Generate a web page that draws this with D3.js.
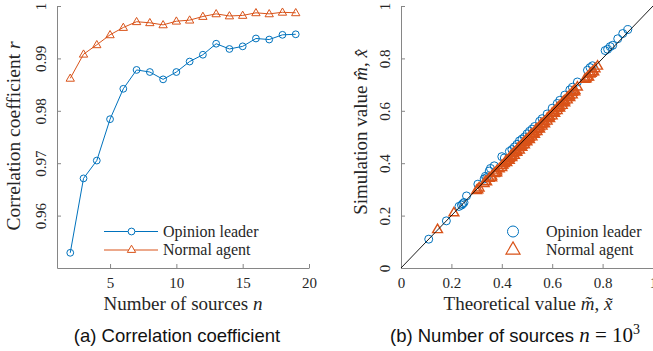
<!DOCTYPE html>
<html>
<head>
<meta charset="utf-8">
<script src="https://cdn.jsdelivr.net/npm/d3@7"></script>
<style>
    body { margin: 0; background: #fff; }
    svg text { font-family: "Liberation Serif", serif; fill: #262626; }
    svg text.caption { font-family: "Liberation Sans", Arial, sans-serif; fill: #111; }
</style>
</head>
<body>
<div id="chart"></div>
<script>
// left panel: correlation coefficient vs number of sources
const sources = [2, 3, 4, 5, 6, 7, 8, 9, 10, 11, 12, 13, 14, 15, 16, 17, 18, 19];
const leaderR = [0.9529, 0.9671, 0.9705, 0.9784, 0.9842, 0.9878, 0.9874, 0.9860, 0.9874, 0.9894,
                 0.9907, 0.9928, 0.9918, 0.9923, 0.9938, 0.9936, 0.9945, 0.9946];
const agentR = [0.9862, 0.9908, 0.9926, 0.9945, 0.9959, 0.9970, 0.9968, 0.9964, 0.9971, 0.9973,
                0.9980, 0.9985, 0.9981, 0.9982, 0.9987, 0.9985, 0.9988, 0.9987];
const leftXTicks = [5, 10, 15, 20];
const leftYTicks = [0.96, 0.97, 0.98, 0.99, 1];

// right panel: theoretical vs simulated values, n = 10^3
const leaderTheory = [0.11, 0.18, 0.23, 0.24, 0.245, 0.25, 0.26, 0.305, 0.33, 0.335, 0.34, 0.35, 0.355, 0.37,
                      0.40, 0.41, 0.43, 0.44, 0.45, 0.46, 0.47, 0.48, 0.49, 0.50, 0.51, 0.52, 0.53, 0.55,
                      0.56, 0.58, 0.60, 0.62, 0.63, 0.65, 0.67, 0.68, 0.70, 0.74, 0.75, 0.76, 0.81, 0.82,
                      0.83, 0.84, 0.86, 0.88, 0.90];
const leaderSim = [0.11, 0.18, 0.235, 0.24, 0.245, 0.25, 0.275, 0.32, 0.34, 0.35, 0.345, 0.37, 0.38, 0.39,
                   0.425, 0.42, 0.445, 0.452, 0.462, 0.472, 0.485, 0.492, 0.50, 0.512, 0.522, 0.53, 0.54, 0.56,
                   0.57, 0.588, 0.61, 0.628, 0.64, 0.66, 0.68, 0.69, 0.71, 0.755, 0.765, 0.772, 0.83, 0.835,
                   0.845, 0.85, 0.875, 0.895, 0.91];
const agentTheory = [0.145, 0.21, 0.30, 0.305, 0.31, 0.33, 0.335, 0.34, 0.35, 0.36, 0.37, 0.375, 0.38, 0.39,
                     0.40, 0.405, 0.41, 0.415, 0.42, 0.425, 0.43, 0.435, 0.44, 0.445, 0.45, 0.455, 0.46, 0.465,
                     0.47, 0.475, 0.48, 0.485, 0.49, 0.495, 0.50, 0.505, 0.51, 0.515, 0.52, 0.525, 0.53, 0.535,
                     0.54, 0.545, 0.55, 0.555, 0.56, 0.565, 0.57, 0.58, 0.585, 0.59, 0.60, 0.605, 0.61, 0.62,
                     0.625, 0.63, 0.64, 0.645, 0.65, 0.66, 0.665, 0.67, 0.68, 0.685, 0.69, 0.70, 0.73, 0.735,
                     0.74, 0.75, 0.755, 0.76, 0.77, 0.78,
                     0.36, 0.38, 0.40, 0.42, 0.43, 0.44, 0.45, 0.46, 0.47, 0.48, 0.49, 0.50, 0.51, 0.52,
                     0.53, 0.54, 0.55, 0.56, 0.57, 0.58, 0.59, 0.60, 0.61, 0.62, 0.63, 0.64, 0.65, 0.66,
                     0.67, 0.68, 0.69, 0.745, 0.765];
const agentSim = [0.146, 0.21, 0.295, 0.298, 0.305, 0.322, 0.33, 0.328, 0.342, 0.35, 0.36, 0.362, 0.37, 0.378,
                  0.39, 0.392, 0.398, 0.406, 0.41, 0.412, 0.418, 0.426, 0.428, 0.436, 0.44, 0.442, 0.448, 0.458,
                  0.46, 0.463, 0.468, 0.477, 0.478, 0.486, 0.49, 0.494, 0.498, 0.507, 0.51, 0.512, 0.518, 0.527,
                  0.53, 0.533, 0.538, 0.547, 0.55, 0.552, 0.558, 0.57, 0.574, 0.578, 0.59, 0.592, 0.598, 0.61,
                  0.612, 0.618, 0.63, 0.634, 0.638, 0.65, 0.652, 0.658, 0.67, 0.673, 0.678, 0.69, 0.72, 0.722,
                  0.728, 0.74, 0.743, 0.748, 0.76, 0.77,
                  0.344, 0.363, 0.383, 0.402, 0.41, 0.421, 0.43, 0.441, 0.45, 0.46, 0.47, 0.481, 0.49, 0.5,
                  0.51, 0.52, 0.53, 0.541, 0.55, 0.56, 0.57, 0.58, 0.59, 0.6, 0.61, 0.62, 0.63, 0.641,
                  0.65, 0.66, 0.672, 0.728, 0.748];
const rightTicks = [0, 0.2, 0.4, 0.6, 0.8, 1];

const blue = "#0072BD";
const orange = "#D95319";
const axisGrey = "#868686";
const serif = '"Liberation Serif", serif';

document.addEventListener('DOMContentLoaded', () => {
    const svg = d3.select("#chart").append("svg")
        .attr("width", 653)
        .attr("height", 351);

    // --- left panel ---
    const xL = d3.scaleLinear().domain([1, 20]).range([57, 309]);
    const yL = d3.scaleLinear().domain([0.95, 1]).range([268, 6]);

    drawAxes(xL, yL, leftXTicks, leftYTicks, d3.format(".2~f"), d => d);

    const line = d3.line().x(d => xL(d[0])).y(d => yL(d[1]));
    const leaderPts = sources.map((n, i) => [n, leaderR[i]]);
    const agentPts = sources.map((n, i) => [n, agentR[i]]);

    svg.append("path").attr("d", line(agentPts))
        .attr("fill", "none").attr("stroke", orange).attr("stroke-width", 1);
    svg.append("path").attr("d", line(leaderPts))
        .attr("fill", "none").attr("stroke", blue).attr("stroke-width", 1);

    const triSmall = d3.symbol(d3.symbolTriangle, 30)();
    svg.append("g").selectAll("path")
        .data(agentPts)
        .enter()
        .append("path")
        .attr("d", triSmall)
        .attr("transform", d => `translate(${xL(d[0])},${yL(d[1]) + 0.5})`)
        .attr("fill", "none").attr("stroke", orange).attr("stroke-width", 1);
    svg.append("g").selectAll("circle")
        .data(leaderPts)
        .enter()
        .append("circle")
        .attr("cx", d => xL(d[0]))
        .attr("cy", d => yL(d[1]))
        .attr("r", 3.4)
        .attr("fill", "none").attr("stroke", blue).attr("stroke-width", 1);

    // left legend
    const legL = svg.append("g");
    [[231.5, blue, "circle", "Opinion leader"], [250, orange, "tri", "Normal agent"]].forEach(([y, c, m, label]) => {
        legL.append("line").attr("x1", 104).attr("x2", 158).attr("y1", y).attr("y2", y)
            .attr("stroke", c).attr("stroke-width", 1);
        if (m === "circle") {
            legL.append("circle").attr("cx", 131.5).attr("cy", y).attr("r", 3.4)
                .attr("fill", "#fff").attr("stroke", c);
        } else {
            legL.append("path").attr("d", triSmall).attr("transform", `translate(131.5,${y})`)
                .attr("fill", "#fff").attr("stroke", c);
        }
        legL.append("text").attr("x", 163).attr("y", y + 5).attr("font-size", 16)
            .style("font-family", serif).text(label);
    });

    // left titles
    const xtL = svg.append("text").attr("x", 183).attr("y", 310)
        .attr("text-anchor", "middle").attr("font-size", 19);
    xtL.append("tspan").text("Number of sources ");
    xtL.append("tspan").attr("font-style", "italic").text("n");

    const ytL = svg.append("text").attr("transform", "translate(20,136) rotate(-90)")
        .attr("text-anchor", "middle").attr("font-size", 19.5);
    ytL.append("tspan").text("Correlation coefficient ");
    ytL.append("tspan").attr("font-style", "italic").text("r");

    // --- right panel ---
    const xR = d3.scaleLinear().domain([0, 1]).range([401, 653]);
    const yR = d3.scaleLinear().domain([0, 1]).range([268, 6]);

    drawAxes(xR, yR, rightTicks, rightTicks, d3.format(".1~f"), d3.format(".1~f"));

    const triScatter = d3.symbol(d3.symbolTriangle, 42)();
    svg.append("g").selectAll("circle")
        .data(leaderTheory.map((t, i) => [t, leaderSim[i]]))
        .enter()
        .append("circle")
        .attr("cx", d => xR(d[0]))
        .attr("cy", d => yR(d[1]))
        .attr("r", 4)
        .attr("fill", "none").attr("stroke", blue).attr("stroke-width", 1);
    svg.append("g").selectAll("path")
        .data(agentTheory.map((t, i) => [t, agentSim[i]]))
        .enter()
        .append("path")
        .attr("d", triScatter)
        .attr("transform", d => `translate(${xR(d[0])},${yR(d[1])})`)
        .attr("fill", "none").attr("stroke", orange).attr("stroke-width", 1.4);
    // the diagonal sits over the markers
    svg.append("line")
        .attr("x1", xR(0)).attr("y1", yR(0))
        .attr("x2", xR(1)).attr("y2", yR(1))
        .attr("stroke", "#000").attr("stroke-width", 0.9);

    // right legend
    svg.append("circle").attr("cx", 513).attr("cy", 231.5).attr("r", 5.5)
        .attr("fill", "none").attr("stroke", blue).attr("stroke-width", 1);
    svg.append("path").attr("d", d3.symbol(d3.symbolTriangle, 85)())
        .attr("transform", "translate(513,250)")
        .attr("fill", "none").attr("stroke", orange).attr("stroke-width", 1.2);
    svg.append("text").attr("x", 546).attr("y", 236.5).attr("font-size", 16)
        .style("font-family", serif).text("Opinion leader");
    svg.append("text").attr("x", 546).attr("y", 255).attr("font-size", 16)
        .style("font-family", serif).text("Normal agent");

    // right titles
    const xtR = svg.append("text").attr("x", 528).attr("y", 310)
        .attr("text-anchor", "middle").attr("font-size", 19);
    xtR.append("tspan").text("Theoretical value ");
    xtR.append("tspan").attr("font-style", "italic").text("m\u0303");
    xtR.append("tspan").text(", ");
    xtR.append("tspan").attr("font-style", "italic").text("x\u0303");

    const ytR = svg.append("text").attr("transform", "translate(367,132) rotate(-90)")
        .attr("text-anchor", "middle").attr("font-size", 19);
    ytR.append("tspan").text("Simulation value ");
    ytR.append("tspan").attr("font-style", "italic").text("m\u0302");
    ytR.append("tspan").text(", ");
    ytR.append("tspan").attr("font-style", "italic").text("x\u0302");

    // captions
    svg.append("text").attr("class", "caption").attr("x", 177).attr("y", 342)
        .attr("text-anchor", "middle").attr("font-size", 18.5)
        .text("(a) Correlation coefficient");
    const capB = svg.append("text").attr("class", "caption").attr("x", 390).attr("y", 342)
        .attr("font-size", 18.5);
    capB.append("tspan").text("(b) Number of sources ");
    capB.append("tspan").style("font-family", serif).attr("font-size", 21)
        .attr("font-style", "italic").text("n");
    capB.append("tspan").style("font-family", serif).attr("font-size", 21).text(" = 10");
    capB.append("tspan").style("font-family", serif).attr("font-size", 14)
        .attr("dy", -8).text("3");

    function drawAxes(x, y, xTicks, yTicks, yFmt, xFmt) {
        const gx = svg.append("g").attr("transform", `translate(0,${y.range()[0]})`)
            .call(d3.axisBottom(x).tickValues(xTicks).tickSize(-4).tickSizeOuter(0).tickFormat(xFmt));
        gx.select(".domain").attr("stroke", axisGrey);
        gx.selectAll(".tick line").attr("stroke", axisGrey);
        gx.selectAll(".tick text")
            .attr("y", 20).attr("dy", 0)
            .attr("font-size", 15).attr("fill", "#262626")
            .style("font-family", serif);

        const gy = svg.append("g").attr("transform", `translate(${x.range()[0]},0)`)
            .call(d3.axisLeft(y).tickValues(yTicks).tickSize(-4).tickSizeOuter(0).tickFormat(yFmt));
        gy.select(".domain").attr("stroke", axisGrey);
        gy.selectAll(".tick line").attr("stroke", axisGrey);
        gy.selectAll(".tick text")
            .attr("transform", "rotate(-90)")
            .attr("x", 0).attr("y", -11.5).attr("dy", 0)
            .attr("text-anchor", "middle")
            .attr("font-size", 15).attr("fill", "#262626")
            .style("font-family", serif);
    }
});
</script>
</body>
</html>
